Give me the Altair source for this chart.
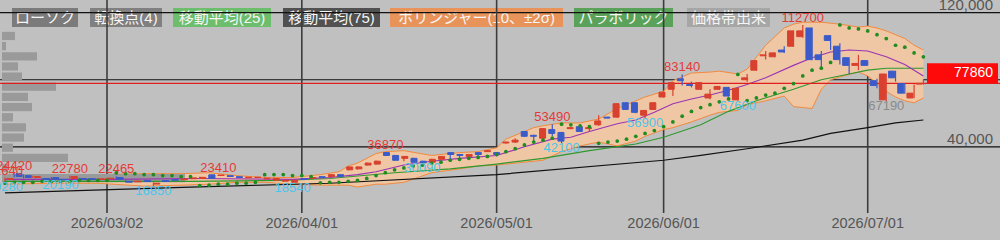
import altair as alt
import pandas as pd

# ---------------- data ----------------
idx = list(range(-11, 89))  # trading-day index, 0 = 2026/03/02
open_ = [20570, 24000, 22860, 21710, 21140, 21710, 20570, 21140, 21140, 21000, 20600,
         20900, 21700, 19500, 19100, 19900, 17800, 19900, 20500, 20400, 21000,
         21100, 23300, 22900, 22800, 22200, 21600, 21700, 21000, 20100, 19500,
         18900, 21000, 21200, 22200, 22300, 23400, 26290, 26860, 29140, 29710,
         36570, 34860, 33140, 33140, 31430, 30860, 32570, 36570, 35430, 34290,
         36570, 37140, 36570, 42290, 42860, 49140, 46860, 45140, 50290, 48570,
         50860, 52000, 50860, 53140, 57710, 57710, 66290, 66290, 58860, 62290,
         69710, 74290, 80570, 77140, 74290, 69140, 74290, 75430, 68000, 80000,
         85710, 94290, 93710, 97710, 100000, 105710, 110860, 94860, 106290, 100000,
         93140, 88570, 91430, 79430, 68000, 85140, 77710, 69140, 77400]
high = [21640, 24420, 23430, 22700, 21500, 22000, 20800, 22780, 21500, 21300, 21200,
        21700, 22465, 20000, 19900, 20100, 18700, 20200, 20800, 21200, 21900,
        22200, 23300, 23410, 23000, 22500, 22200, 22100, 21600, 21400, 20300,
        20300, 21300, 22000, 22500, 23700, 23700, 28300, 28300, 30600, 31800,
        36870, 35200, 34600, 33500, 31700, 32900, 34600, 36800, 35700, 35700,
        36860, 38000, 36900, 43100, 45140, 49500, 47200, 51200, 53490, 48900,
        51700, 52400, 52570, 58860, 58000, 66000, 66600, 66600, 62000, 66600,
        72900, 78600, 83140, 78860, 78600, 74290, 76300, 75700, 75200, 83430,
        91700, 97140, 96300, 100000, 109400, 112700, 111200, 97140, 106600, 101710,
        93400, 94860, 91700, 80570, 83700, 85400, 78000, 77140, 80160]
low = [19280, 21710, 21140, 21400, 20300, 20400, 20190, 20900, 20400, 20400, 20400,
       20700, 20400, 18700, 18800, 19000, 16850, 19100, 19900, 20200, 20800,
       20900, 20900, 22600, 22000, 21400, 21300, 21400, 20700, 19800, 19200,
       18540, 20300, 21000, 21500, 22000, 22100, 26000, 26500, 28900, 29400,
       34500, 31700, 31430, 30300, 30090, 30600, 32300, 32600, 32600, 34000,
       33140, 36900, 34290, 42000, 42290, 46000, 43430, 44800, 46290, 42100,
       50500, 48800, 49140, 52570, 57000, 57400, 62000, 60000, 56900, 62000,
       69400, 70290, 76570, 75430, 74000, 68300, 74000, 70000, 67600, 78860,
       85400, 92000, 93400, 96000, 99700, 105100, 91700, 87430, 97710, 89140,
       83430, 85710, 88300, 74860, 67190, 78860, 71700, 68900, 77000]
close = [21140, 22290, 21710, 22290, 20570, 20570, 20400, 22290, 20570, 20600, 20900,
         21300, 20600, 18900, 19600, 19300, 18300, 19400, 20100, 20900, 21500,
         21800, 21200, 23200, 22300, 21700, 21900, 21900, 21300, 21100, 20000,
         20000, 20600, 21700, 21800, 23400, 22400, 28000, 28000, 30290, 31430,
         34860, 32000, 34290, 30800, 30500, 32570, 34290, 35430, 34860, 35430,
         35430, 37710, 35430, 42860, 44000, 46290, 46290, 50860, 48000, 43430,
         51430, 49140, 51430, 55430, 57140, 65710, 62290, 60570, 61710, 66290,
         72570, 78290, 79430, 76570, 78290, 71430, 76000, 70290, 74860, 81140,
         91430, 94860, 96000, 96570, 109140, 109140, 92000, 92000, 103430, 92000,
         88570, 89710, 88570, 76570, 83430, 81140, 72000, 72000, 77860]
sar = [18290, 18860, 18860, 18860, 19430, 19430, 19430, 19430, 20000, 20000, 20000,
       20000, 24420, 24000, 24000, 23430, 23430, 22860, 22860, 22290, 22290,
       16850, 17140, 17710, 17710, 18290, 18290, 18860, 23410, 23430, 23430,
       22860, 22860, 22290, 18540, 18860, 18860, 19430, 20000, 21140, 22860,
       24570, 26290, 27430, 28570, 29140, 30290, 30860, 32000, 32570, 33140,
       33710, 34290, 35430, 37140, 38860, 41140, 42860, 44000, 45140, 53490,
       53140, 52570, 52000, 42100, 42860, 43430, 44570, 46290, 48000, 49710,
       52000, 54860, 58290, 61140, 63430, 65140, 66860, 68570, 83140, 67600,
       69140, 70860, 72000, 74860, 77710, 82290, 85710, 86860, 90290, 112700,
       110860, 110290, 109140, 106860, 104570, 100570, 99430, 96000, 93710]

bb_idx = [-11, -6, -1, 4, 8, 11, 14, 17, 20, 23, 25, 26, 27, 29, 30, 32, 35, 38, 40, 42,
          43, 44, 46, 47, 49, 51, 53, 55, 57, 58, 60, 61, 63, 65, 66, 68, 69, 71, 73, 74,
          75, 76, 77, 78, 79, 81, 82, 83, 84, 85, 86, 87, 88]
bb_up = [22857, 23429, 23429, 24000, 24000, 24571, 22857, 21714, 21714, 23429, 25143,
         28571, 30286, 36000, 37143, 37714, 34857, 36571, 37143, 39429, 44571, 46857,
         51429, 52571, 54286, 54286, 56571, 62857, 67429, 69714, 73143, 79429, 84000,
         84571, 85143, 83429, 86286, 100571, 110857, 113143, 114286, 114286, 114286,
         113714, 113143, 111429, 112000, 110857, 109143, 106857, 104571, 100571, 97714]
bb_lo = [17714, 18286, 18286, 16571, 17143, 17714, 18857, 18857, 17714, 17143, 17143,
         17143, 16000, 17714, 17714, 18857, 24571, 26857, 28571, 29143, 29714, 30286,
         31429, 32000, 37143, 40571, 42857, 40571, 43429, 46286, 50286, 51429, 54857,
         58857, 60571, 61714, 65143, 67429, 70286, 64000, 63429, 62857, 74286, 80000,
         81714, 84571, 82286, 77714, 73143, 69714, 67429, 66286, 69143]
mid_idx = [-11, 0, 10, 20, 24, 27, 29, 32, 35, 38, 42, 45, 48, 50, 52, 55, 57, 59, 61, 63,
           65, 67, 69, 71, 74, 76, 78, 80, 82, 84, 86, 88]
mid_val = [20571, 20571, 21143, 20571, 21714, 23429, 25143, 29143, 31429, 33143, 34857,
           40000, 44571, 45714, 49143, 53714, 56000, 60571, 65714, 68571, 70857, 73714,
           77143, 81143, 88571, 93143, 96571, 97714, 97143, 93714, 89143, 82286]
ma25_idx = [-11, -1, 9, 19, 24, 31, 37, 42, 47, 52, 57, 60, 64, 67, 70, 74, 77, 80, 82, 84, 88]
ma25_val = [19429, 19429, 19429, 20000, 21143, 24571, 26857, 29714, 33143, 37714, 41714,
            45714, 53143, 61143, 67429, 74286, 80000, 83429, 85714, 86857, 86857]
ma75_idx = [-11, 9, 24, 42, 60, 64, 69, 75, 78, 82, 85, 88]
ma75_val = [12571, 16000, 18286, 23429, 32000, 34857, 38857, 44000, 48000, 51429, 54286, 56000]

tp_idx = [-11, -10, -4, 1, 12, 30, 48, 62, 75, -11, -5, 5, 20, 34, 49, 58, 68, 84]
tp_val = [21640, 24420, 22780, 22465, 23410, 36870, 53490, 83140, 112700,
          19280, 20190, 16850, 18540, 30090, 42100, 56900, 67600, 67190]
tp_kind = ["high"] * 9 + ["low"] * 8 + ["pending"]

vol_hi = [108570, 102510, 96460, 90400, 84340, 78290, 72230, 66170, 60110, 54060,
          48000, 41940, 35890, 29830, 23770]
vol_lo = [103660, 97600, 91550, 85490, 79430, 73380, 67320, 61260, 55200, 49150,
          43090, 37030, 30980, 24920, 18860]
vol_k = [13, 4, 35, 16, 20, 54, 26, 30, 11, 24, 22, 11, 66, 6, 183]

date_idx = [0, 21, 42, 60, 82]
date_lbl = ["2026/03/02", "2026/04/01", "2026/05/01", "2026/06/01", "2026/07/01"]
price_ticks = [40000, 80000, 120000]
price_lbl = ["40,000", "80,000", "120,000"]
last_price = 77860

legend_lbl = ["ローソク", "転換点(4)", "移動平均(25)", "移動平均(75)",
              "ボリンジャー(10、±2σ)", "パラボリック", "価格帯出来"]
legend_col = ["#7b7b7b", "#808080", "#6cbd6c", "#515151", "#e8935a", "#5aa25a", "#a6a6a6"]
# layout of the legend buttons (pixels)
legend_x0 = [12, 90, 173, 283, 390, 574, 687]
legend_x1 = [78, 162, 271, 380, 563, 673, 770]

# ---------------- scales ----------------
xs = alt.Scale(domain=[-11.534, 96.26], nice=False, zero=False)
ys = alt.Scale(domain=[-12571.4, 124571.4], nice=False, zero=False)
NUM = "Liberation Sans"
JP = "Liberation Sans, Noto Sans CJK JP"

cdf = pd.DataFrame({"i": idx, "o": open_, "h": high, "l": low, "c": close, "sar": sar})
cdf["dir"] = ["up" if c >= o else "down" for o, c in zip(open_, close)]
bbdf = pd.DataFrame({"i": bb_idx, "up": bb_up, "lo": bb_lo})
middf = pd.DataFrame({"i": mid_idx, "v": mid_val})
ma25df = pd.DataFrame({"i": ma25_idx, "v": ma25_val})
ma75df = pd.DataFrame({"i": ma75_idx, "v": ma75_val})
tpdf = pd.DataFrame({"i": tp_idx, "v": tp_val, "kind": tp_kind, "t": [str(v) for v in tp_val]})
voldf = pd.DataFrame({"hi": vol_hi, "lo": vol_lo, "vol": [k * 1000 for k in vol_k]})
datedf = pd.DataFrame({"i": date_idx, "t": date_lbl})
pricedf = pd.DataFrame({"v": price_ticks, "t": price_lbl})
lastdf = pd.DataFrame({"p": [last_price], "t": [str(last_price)]})
legdf = pd.DataFrame({"t": legend_lbl, "col": legend_col, "x0": legend_x0, "x1": legend_x1})
legdf["xm"] = (legdf["x0"] + legdf["x1"]) / 2

X = lambda f: alt.X(f, type="quantitative", scale=xs, axis=None)
Y = lambda f: alt.Y(f, type="quantitative", scale=ys, axis=None)

leg_box = alt.Chart(legdf).mark_rect().encode(
    x=alt.X("x0:Q", scale=None, axis=None), x2="x1:Q",
    y=alt.value(8), y2=alt.value(27),
    color=alt.Color("col:N", scale=None, legend=None))
leg_txt = alt.Chart(legdf).mark_text(font=JP, fontSize=15, color="#f6f6f6", baseline="middle").encode(
    x=alt.X("xm:Q", scale=None, axis=None), y=alt.value(18), text="t:N")

hgrid = alt.Chart(pricedf).mark_rule(color="#111111", strokeWidth=1.2).encode(y=Y("v"))
vgrid = alt.Chart(datedf).mark_rule(color="#3c3c3c", strokeWidth=1.6).encode(
    x=X("i"), y=alt.value(0), y2=alt.value(213))

bb_fill = alt.Chart(bbdf).mark_area(color="#efc7a4", opacity=1).encode(
    x=X("i"), y=Y("up"), y2="lo:Q")
bb_up_l = alt.Chart(bbdf).mark_line(color="#f28a3e", strokeWidth=1).encode(x=X("i"), y=Y("up"))
bb_lo_l = alt.Chart(bbdf).mark_line(color="#f28a3e", strokeWidth=1).encode(x=X("i"), y=Y("lo"))

vol = alt.Chart(voldf).mark_bar(color="#9a9a9a", orient="horizontal").encode(
    x=alt.X("vol:Q", scale=alt.Scale(domain=[-2000, 998000], nice=False, zero=False), axis=None),
    x2=alt.datum(0),
    y=Y("hi"), y2="lo:Q")

ma75 = alt.Chart(ma75df).mark_line(color="#111111", strokeWidth=1.2).encode(x=X("i"), y=Y("v"))
ma25 = alt.Chart(ma25df).mark_line(color="#2f982f", strokeWidth=1.1).encode(x=X("i"), y=Y("v"))
mid = alt.Chart(middf).mark_line(color="#9b34b4", strokeWidth=1.1).encode(x=X("i"), y=Y("v"))

price_line = alt.Chart(lastdf).mark_rule(color="#e01e1e", strokeWidth=1.4).encode(y=Y("p"))

cscale = alt.Scale(domain=["up", "down"], range=["#d8412f", "#3b5bc9"])
wick = alt.Chart(cdf).mark_rule(strokeWidth=1.2).encode(
    x=X("i"), y=Y("l"), y2="h:Q", color=alt.Color("dir:N", scale=cscale, legend=None))
body = alt.Chart(cdf).mark_bar(size=6, strokeWidth=1).encode(
    x=X("i"), y=Y("o"), y2="c:Q",
    color=alt.Color("dir:N", scale=cscale, legend=None),
    stroke=alt.Stroke("dir:N", scale=cscale, legend=None))
dots = alt.Chart(cdf).mark_circle(size=14, color="#1f8c1f", opacity=1).encode(x=X("i"), y=Y("sar"))

tp_hi = alt.Chart(tpdf[tpdf.kind == "high"]).mark_text(
    font=NUM, fontSize=13, color="#e63a36", baseline="alphabetic", dy=-3).encode(
    x=X("i"), y=Y("v"), text="t:N")
tp_lo = alt.Chart(tpdf[tpdf.kind == "low"]).mark_text(
    font=NUM, fontSize=13, color="#4cc4ee", baseline="top", dy=-1).encode(
    x=X("i"), y=Y("v"), text="t:N")
tp_pe = alt.Chart(tpdf[tpdf.kind == "pending"]).mark_text(
    font=NUM, fontSize=13, color="#8a8a8a", baseline="top", dy=-1).encode(
    x=X("i"), y=Y("v"), text="t:N")

ylab = alt.Chart(pricedf).mark_text(font=NUM, fontSize=15, color="#555555", align="right",
                                    baseline="alphabetic", dy=-3).encode(
    x=alt.value(993), y=Y("v"), text="t:N")
pbox = alt.Chart(lastdf).mark_rect(color="#ff0a0a", yOffset=-20).encode(
    x=alt.value(927), x2=alt.value(998), y=Y("p"), y2="p:Q")
ptxt = alt.Chart(lastdf).mark_text(font=NUM, fontSize=14, color="#ffffff", align="right",
                                   baseline="middle", dy=-10).encode(
    x=alt.value(993), y=Y("p"), text="t:N")
xlab = alt.Chart(datedf).mark_text(font=NUM, fontSize=14.5, color="#555555", baseline="middle").encode(
    x=X("i"), y=alt.value(224), text="t:N")

chart = alt.layer(
    leg_box, leg_txt, hgrid, vgrid, bb_fill, bb_up_l, bb_lo_l, vol, ma75, ma25, mid,
    price_line, wick, body, dots, tp_lo, tp_pe, tp_hi, ylab, pbox, ptxt, xlab
).resolve_scale(x="independent").properties(
    width=1000, height=240,
    autosize=alt.AutoSizeParams(type="none"),
    padding={"left": 0, "top": 0, "right": 0, "bottom": 0},
    background="#c0c0c0",
).configure_view(strokeWidth=0)

chart.save("out.html", embed_options={"renderer": "svg", "actions": False})
